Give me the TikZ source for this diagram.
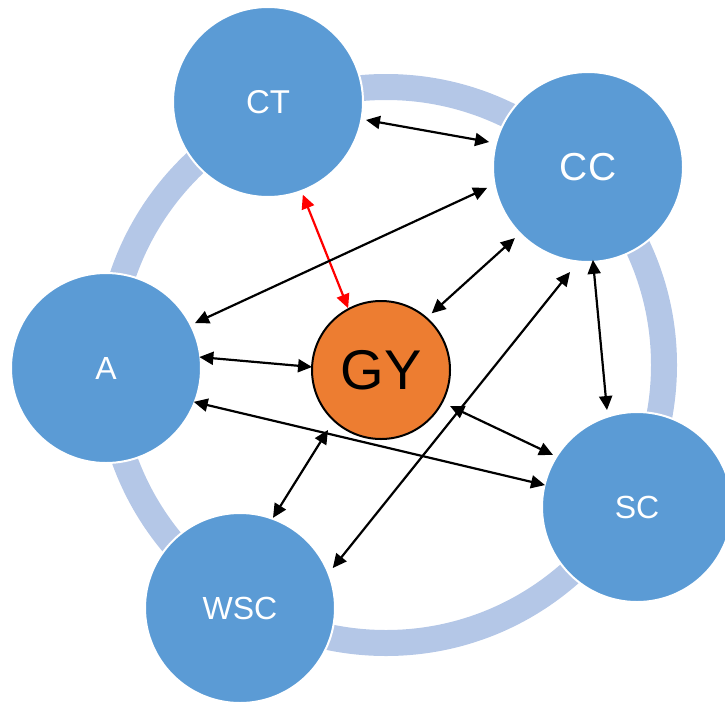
\documentclass[tikz,border=0pt]{standalone}
\usepackage{fontspec}
\setmainfont{Liberation Sans}
\usetikzlibrary{arrows.meta,calc}
\definecolor{cblue}{HTML}{5B9BD5}
\definecolor{cring}{HTML}{B4C7E7}
\definecolor{corange}{HTML}{ED7D31}
\tikzset{
  bubble/.style={circle,fill=cblue,draw=white,line width=2pt,minimum size=190pt,inner sep=0pt,outer sep=0pt,text=white},
  core/.style={circle,fill=corange,draw=black,line width=2pt,minimum size=138pt,inner sep=0pt,outer sep=0pt,text=black,font=\fontsize{56}{60}\selectfont},
  link/.style={line width=2.2pt,{Triangle[length=14pt,width=13pt]}-{Triangle[length=14pt,width=13pt]}},
}
\begin{document}
\begin{tikzpicture}[x=1pt,y=-1pt]
\useasboundingbox (0,0) rectangle (725,704);
\coordinate (ringc) at (386,365);
\draw[cring,line width=26pt] (ringc) circle[radius=278pt];
\node[bubble,font=\fontsize{33}{36}\selectfont] (CT) at (268,102) {CT};
\node[bubble,font=\fontsize{39}{42}\selectfont] (CC) at (588,167) {CC};
\node[bubble,font=\fontsize{32}{36}\selectfont] (A) at (106,368) {A};
\node[bubble,font=\fontsize{32}{36}\selectfont] (SC) at (637,507) {SC};
\node[bubble,font=\fontsize{32}{36}\selectfont] (WSC) at (240,608) {WSC};
\node[core] (GY) at (381,370) {GY};
\draw[link] ($(CT)+(10.4:99.6)$) -- ($(CC)+(194.2:102)$);
\draw[link,red] ($(CT)+(69.4:99)$) -- ($(GY)+(242:70)$);
\draw[link] ($(A)+(-26.8:99.7)$) -- ($(CC)+(168.3:103)$);
\draw[link] ($(GY)+(-48.2:76)$) -- ($(CC)+(135.8:102)$);
\draw[link] ($(A)+(-6.7:94)$) -- ($(GY)+(182.5:69)$);
\draw[link] ($(A)+(21.1:94)$) -- ($(SC)+(193.4:94.6)$);
\draw[link] ($(GY)+(27.6:78)$) -- ($(SC)+(211.8:98.8)$);
\draw[link] ($(WSC)+(-23.3:101)$) -- ($(CC)+(99.7:106.5)$);
\draw[link] ($(CC)+(87:93)$) -- ($(SC)+(-107.2:101.5)$);
\draw[link] ($(GY)+(131.5:80)$) -- ($(WSC)+(-69.9:96)$);
\end{tikzpicture}
\end{document}
